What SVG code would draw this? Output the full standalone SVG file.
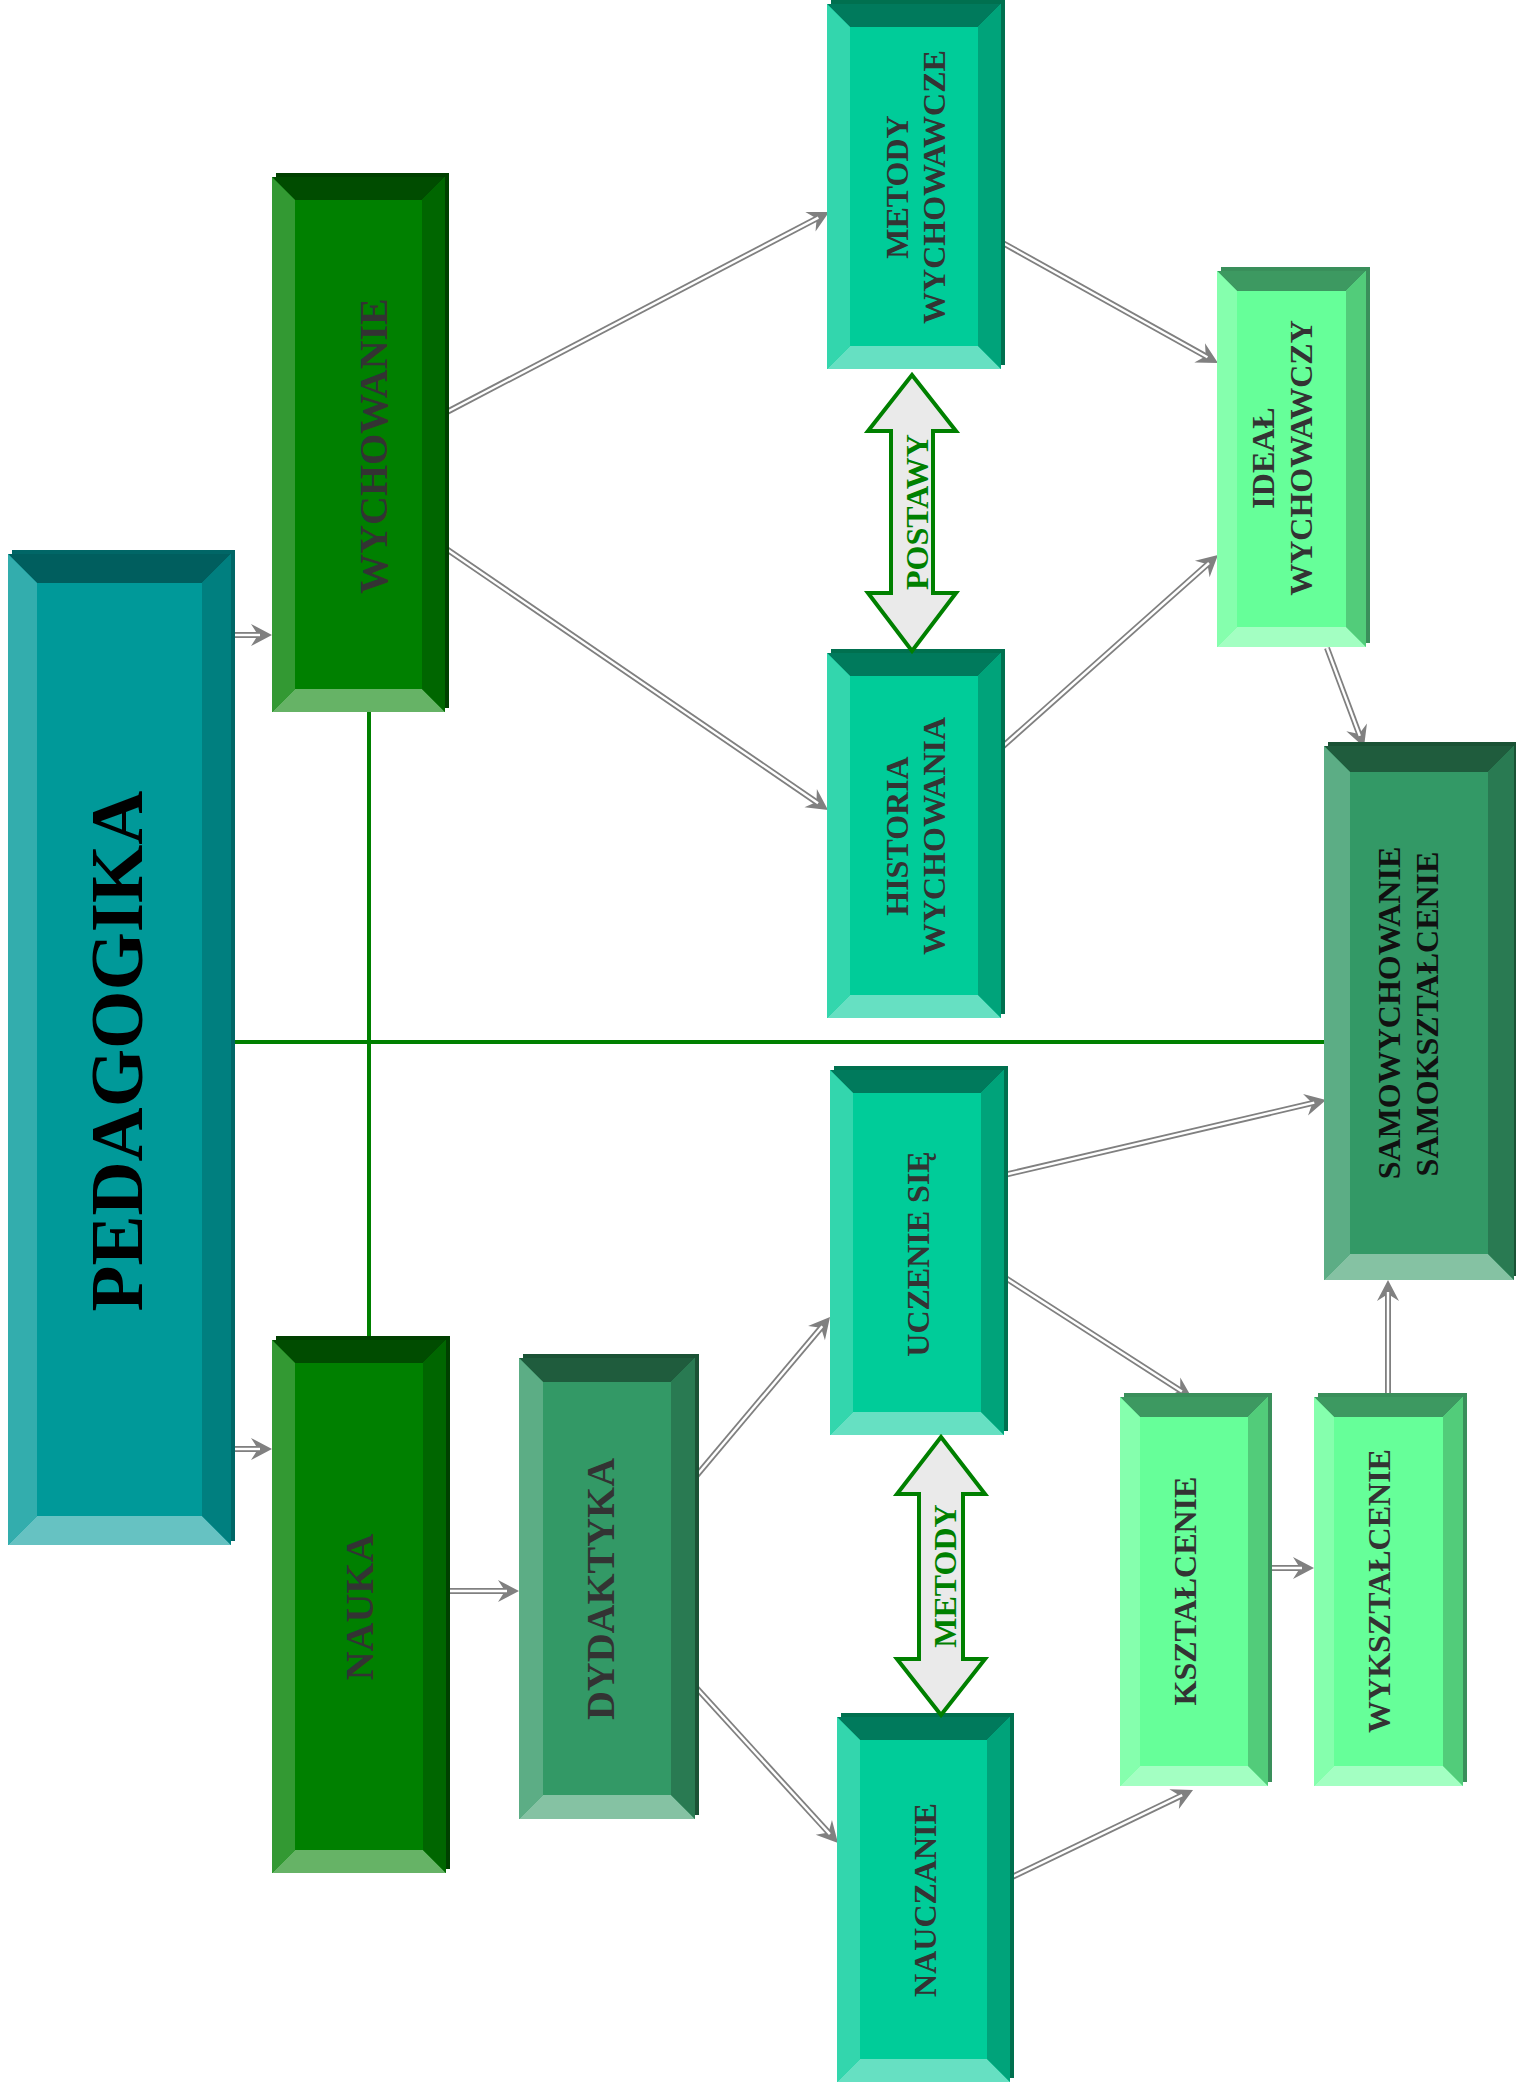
<svg xmlns="http://www.w3.org/2000/svg" width="1516" height="2090" viewBox="0 0 1516 2090">
<defs>
<style>
.lbl{font-family:"Liberation Serif","Times New Roman",serif;font-weight:bold;text-anchor:middle}
.teal .sh{fill:#006666}.teal .m{fill:#009999}.teal .t{fill:#005E5E}.teal .b{fill:#66C2C2}.teal .l{fill:#33ADAD}.teal .r{fill:#007F7F}
.grn .sh{fill:#004000}.grn .m{fill:#008000}.grn .t{fill:#004C00}.grn .b{fill:#66B366}.grn .l{fill:#339933}.grn .r{fill:#006600}
.sea .sh{fill:#1A5235}.sea .m{fill:#339966}.sea .t{fill:#1F5C3D}.sea .b{fill:#85C2A3}.sea .l{fill:#5CAD85}.sea .r{fill:#297A52}
.mint .sh{fill:#00704F}.mint .m{fill:#00CC99}.mint .t{fill:#007A5C}.mint .b{fill:#66E0C2}.mint .l{fill:#33D6AD}.mint .r{fill:#00A37A}
.lite .sh{fill:#3A8F5B}.lite .m{fill:#66FF99}.lite .t{fill:#3D9961}.lite .b{fill:#A3FFC2}.lite .l{fill:#85FFAD}.lite .r{fill:#52CC7A}
.txt{fill:#333333}
.gline{stroke:#008000;stroke-width:4;fill:none}
.dout{stroke:#808080;stroke-width:6;fill:none}
.din{stroke:#FFFFFF;stroke-width:2.4;fill:none}
.bigarrow{fill:#EAEAEA;stroke:#008000;stroke-width:4;stroke-linejoin:miter}
.gtxt{fill:#008000}
</style>
<marker id="ah" markerUnits="userSpaceOnUse" markerWidth="40" markerHeight="40" refX="-12" refY="0" orient="auto" overflow="visible">
<path d="M0,0 L-21,-11 L-14,0 L-21,11 Z" fill="#808080"/>
</marker>
</defs>

<g id="connectors">
<path class="gline" d="M231,1042 H1324"/>
<path class="gline" d="M369,712 V1340"/>
<g id="c1"><path class="dout" d="M231,635 L260,635" marker-end="url(#ah)"/><path class="din" d="M231,635 L260,635"/></g>
<g id="c2"><path class="dout" d="M231,1449 L260,1449" marker-end="url(#ah)"/><path class="din" d="M231,1449 L260,1449"/></g>
<g id="c3"><path class="dout" d="M445,413 L818.4,217.6" marker-end="url(#ah)"/><path class="din" d="M445,413 L818.4,217.6"/></g>
<g id="c4"><path class="dout" d="M445,548 L818.1,803.2" marker-end="url(#ah)"/><path class="din" d="M445,548 L818.1,803.2"/></g>
<g id="c5"><path class="dout" d="M1001,242 L1207.5,357.2" marker-end="url(#ah)"/><path class="din" d="M1001,242 L1207.5,357.2"/></g>
<g id="c6"><path class="dout" d="M1001,748 L1209,563" marker-end="url(#ah)"/><path class="din" d="M1001,748 L1209,563"/></g>
<g id="c7"><path class="dout" d="M1327,648 L1359.8,735.8" marker-end="url(#ah)"/><path class="din" d="M1327,648 L1359.8,735.8"/></g>
<g id="c8"><path class="dout" d="M446,1591 L507,1591" marker-end="url(#ah)"/><path class="din" d="M446,1591 L507,1591"/></g>
<g id="c9"><path class="dout" d="M692,1481 L822.3,1326.2" marker-end="url(#ah)"/><path class="din" d="M692,1481 L822.3,1326.2"/></g>
<g id="c10"><path class="dout" d="M692,1683 L829.9,1834.1" marker-end="url(#ah)"/><path class="din" d="M692,1683 L829.9,1834.1"/></g>
<g id="c11"><path class="dout" d="M1004,1175 L1314.3,1102.7" marker-end="url(#ah)"/><path class="din" d="M1004,1175 L1314.3,1102.7"/></g>
<g id="c12"><path class="dout" d="M1004,1277 L1181.9,1391.5" marker-end="url(#ah)"/><path class="din" d="M1004,1277 L1181.9,1391.5"/></g>
<g id="c13"><path class="dout" d="M1388,1397 L1388,1292" marker-end="url(#ah)"/><path class="din" d="M1388,1397 L1388,1292"/></g>
<g id="c14"><path class="dout" d="M1268,1568 L1302,1568" marker-end="url(#ah)"/><path class="din" d="M1268,1568 L1302,1568"/></g>
<g id="c15"><path class="dout" d="M1010,1878 L1182.2,1795.2" marker-end="url(#ah)"/><path class="din" d="M1010,1878 L1182.2,1795.2"/></g>
</g>

<g id="pedagogika" class="teal">
<rect class="sh" x="12" y="550" width="223" height="991"/>
<rect class="m" x="8" y="554" width="223" height="991"/>
<polygon class="t" points="8,554 231,554 202,583 37,583"/>
<polygon class="b" points="8,1545 231,1545 202,1516 37,1516"/>
<polygon class="l" points="8,554 37,583 37,1516 8,1545"/>
<polygon class="r" points="231,554 202,583 202,1516 231,1545"/>
<text class="lbl" font-size="75" fill="#000" transform="translate(142,1051) rotate(-90)">PEDAGOGIKA</text>
</g>

<g id="wychowanie" class="grn">
<rect class="sh" x="276" y="173" width="173" height="535"/>
<rect class="m" x="272" y="177" width="173" height="535"/>
<polygon class="t" points="272,177 445,177 422,200 295,200"/>
<polygon class="b" points="272,712 445,712 422,689 295,689"/>
<polygon class="l" points="272,177 295,200 295,689 272,712"/>
<polygon class="r" points="445,177 422,200 422,689 445,712"/>
<text class="lbl txt" font-size="40" transform="translate(387,446) rotate(-90)">WYCHOWANIE</text>
</g>

<g id="nauka" class="grn">
<rect class="sh" x="276" y="1336" width="174" height="533"/>
<rect class="m" x="272" y="1340" width="174" height="533"/>
<polygon class="t" points="272,1340 446,1340 423,1363 295,1363"/>
<polygon class="b" points="272,1873 446,1873 423,1850 295,1850"/>
<polygon class="l" points="272,1340 295,1363 295,1850 272,1873"/>
<polygon class="r" points="446,1340 423,1363 423,1850 446,1873"/>
<text class="lbl txt" font-size="40" transform="translate(373,1607) rotate(-90)">NAUKA</text>
</g>

<g id="dydaktyka" class="sea">
<rect class="sh" x="523" y="1354" width="176" height="461"/>
<rect class="m" x="519" y="1358" width="176" height="461"/>
<polygon class="t" points="519,1358 695,1358 671,1382 543,1382"/>
<polygon class="b" points="519,1819 695,1819 671,1795 543,1795"/>
<polygon class="l" points="519,1358 543,1382 543,1795 519,1819"/>
<polygon class="r" points="695,1358 671,1382 671,1795 695,1819"/>
<text class="lbl txt" font-size="40" transform="translate(614,1589) rotate(-90)">DYDAKTYKA</text>
</g>

<g id="metody-wychowawcze" class="mint">
<rect class="sh" x="831" y="0" width="174" height="365"/>
<rect class="m" x="827" y="4" width="174" height="365"/>
<polygon class="t" points="827,4 1001,4 978,27 850,27"/>
<polygon class="b" points="827,369 1001,369 978,346 850,346"/>
<polygon class="l" points="827,4 850,27 850,346 827,369"/>
<polygon class="r" points="1001,4 978,27 978,346 1001,369"/>
<text class="lbl txt" font-size="32" transform="translate(908,187) rotate(-90)">METODY</text>
<text class="lbl txt" font-size="32" transform="translate(945,187) rotate(-90)">WYCHOWAWCZE</text>
</g>

<g id="historia-wychowania" class="mint">
<rect class="sh" x="831" y="649" width="174" height="365"/>
<rect class="m" x="827" y="653" width="174" height="365"/>
<polygon class="t" points="827,653 1001,653 978,676 850,676"/>
<polygon class="b" points="827,1018 1001,1018 978,995 850,995"/>
<polygon class="l" points="827,653 850,676 850,995 827,1018"/>
<polygon class="r" points="1001,653 978,676 978,995 1001,1018"/>
<text class="lbl txt" font-size="32" transform="translate(908,836) rotate(-90)">HISTORIA</text>
<text class="lbl txt" font-size="32" transform="translate(945,836) rotate(-90)">WYCHOWANIA</text>
</g>

<g id="uczenie-sie" class="mint">
<rect class="sh" x="834" y="1066" width="174" height="365"/>
<rect class="m" x="830" y="1070" width="174" height="365"/>
<polygon class="t" points="830,1070 1004,1070 981,1093 853,1093"/>
<polygon class="b" points="830,1435 1004,1435 981,1412 853,1412"/>
<polygon class="l" points="830,1070 853,1093 853,1412 830,1435"/>
<polygon class="r" points="1004,1070 981,1093 981,1412 1004,1435"/>
<text class="lbl txt" font-size="32" transform="translate(929,1254) rotate(-90)">UCZENIE SIĘ</text>
</g>

<g id="nauczanie" class="mint">
<rect class="sh" x="841" y="1713" width="173" height="365"/>
<rect class="m" x="837" y="1717" width="173" height="365"/>
<polygon class="t" points="837,1717 1010,1717 987,1740 860,1740"/>
<polygon class="b" points="837,2082 1010,2082 987,2059 860,2059"/>
<polygon class="l" points="837,1717 860,1740 860,2059 837,2082"/>
<polygon class="r" points="1010,1717 987,1740 987,2059 1010,2082"/>
<text class="lbl txt" font-size="32" transform="translate(936,1900) rotate(-90)">NAUCZANIE</text>
</g>

<g id="ideal-wychowawczy" class="lite">
<rect class="sh" x="1221" y="267" width="149" height="376"/>
<rect class="m" x="1217" y="271" width="149" height="376"/>
<polygon class="t" points="1217,271 1366,271 1346,291 1237,291"/>
<polygon class="b" points="1217,647 1366,647 1346,627 1237,627"/>
<polygon class="l" points="1217,271 1237,291 1237,627 1217,647"/>
<polygon class="r" points="1366,271 1346,291 1346,627 1366,647"/>
<text class="lbl txt" font-size="32" transform="translate(1274,458) rotate(-90)">IDEAŁ</text>
<text class="lbl txt" font-size="32" transform="translate(1312,458) rotate(-90)">WYCHOWAWCZY</text>
</g>

<g id="samowychowanie" class="sea">
<rect class="sh" x="1328" y="742" width="190" height="534"/>
<rect class="m" x="1324" y="746" width="190" height="534"/>
<polygon class="t" points="1324,746 1514,746 1488,772 1350,772"/>
<polygon class="b" points="1324,1280 1514,1280 1488,1254 1350,1254"/>
<polygon class="l" points="1324,746 1350,772 1350,1254 1324,1280"/>
<polygon class="r" points="1514,746 1488,772 1488,1254 1514,1280"/>
<text class="lbl" font-size="32" fill="#111" transform="translate(1400,1013) rotate(-90)">SAMOWYCHOWANIE</text>
<text class="lbl" font-size="32" fill="#111" transform="translate(1438,1014) rotate(-90)">SAMOKSZTAŁCENIE</text>
</g>

<g id="ksztalcenie" class="lite">
<rect class="sh" x="1124" y="1393" width="148" height="389"/>
<rect class="m" x="1120" y="1397" width="148" height="389"/>
<polygon class="t" points="1120,1397 1268,1397 1248,1417 1140,1417"/>
<polygon class="b" points="1120,1786 1268,1786 1248,1766 1140,1766"/>
<polygon class="l" points="1120,1397 1140,1417 1140,1766 1120,1786"/>
<polygon class="r" points="1268,1397 1248,1417 1248,1766 1268,1786"/>
<text class="lbl txt" font-size="32" transform="translate(1196,1591) rotate(-90)">KSZTAŁCENIE</text>
</g>

<g id="wyksztalcenie" class="lite">
<rect class="sh" x="1318" y="1393" width="149" height="389"/>
<rect class="m" x="1314" y="1397" width="149" height="389"/>
<polygon class="t" points="1314,1397 1463,1397 1443,1417 1334,1417"/>
<polygon class="b" points="1314,1786 1463,1786 1443,1766 1334,1766"/>
<polygon class="l" points="1314,1397 1334,1417 1334,1766 1314,1786"/>
<polygon class="r" points="1463,1397 1443,1417 1443,1766 1463,1786"/>
<text class="lbl txt" font-size="32" transform="translate(1390,1591) rotate(-90)">WYKSZTAŁCENIE</text>
</g>

<g id="postawy">
<polygon class="bigarrow" points="912,375 956,431 933,431 933,593 956,593 912,651 868,593 891,593 891,431 868,431"/>
<text class="lbl gtxt" font-size="32" transform="translate(928,512) rotate(-90)">POSTAWY</text>
</g>

<g id="metody">
<polygon class="bigarrow" points="941,1437 985,1494 963,1494 963,1659 985,1659 941,1715 897,1659 919,1659 919,1494 897,1494"/>
<text class="lbl gtxt" font-size="32" transform="translate(956,1576) rotate(-90)">METODY</text>
</g>
</svg>
